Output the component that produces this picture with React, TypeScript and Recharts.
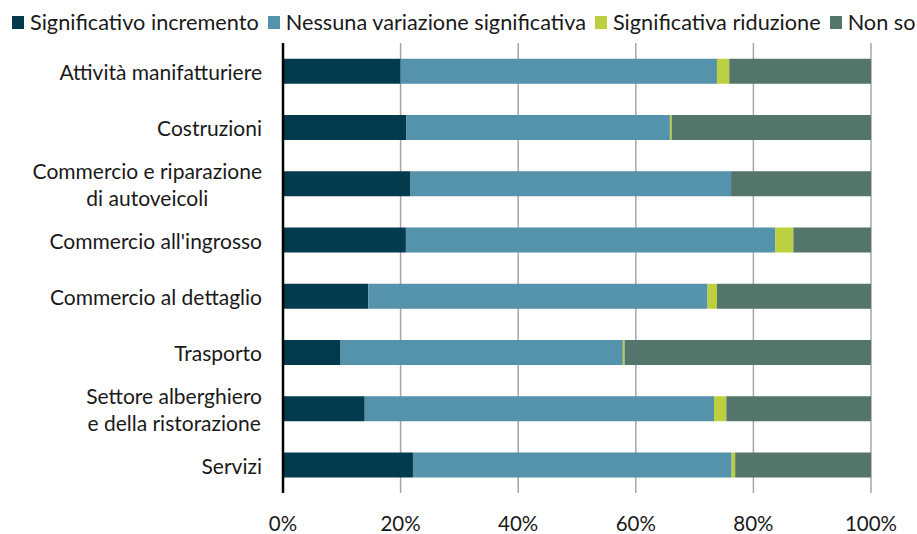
import React from "react";
import { BarChart, Bar, XAxis, YAxis, CartesianGrid } from "recharts";

const categories = [
  "Attività manifatturiere",
  "Costruzioni",
  "Commercio e riparazione\ndi autoveicoli",
  "Commercio all'ingrosso",
  "Commercio al dettaglio",
  "Trasporto",
  "Settore alberghiero\ne della ristorazione",
  "Servizi",
];
const incremento = [20.0, 21.0, 21.7, 20.9, 14.5, 9.8, 13.9, 22.1];
const nessuna = [53.8, 44.8, 54.5, 62.8, 57.7, 48.0, 59.4, 54.2];
const riduzione = [2.1, 0.3, 0.0, 3.1, 1.6, 0.3, 2.1, 0.6];
const nonSo = [24.1, 33.9, 23.8, 13.2, 26.2, 41.9, 24.6, 23.1];
const xTicks = [0, 20, 40, 60, 80, 100];

const seriesNames = [
  "Significativo incremento",
  "Nessuna variazione significativa",
  "Significativa riduzione",
  "Non so",
];
const colors = ["#033a4e", "#5592ab", "#bccf3e", "#53756c"];

const data = categories.map((c, i) => ({
  name: c,
  a: incremento[i],
  b: nessuna[i],
  c: riduzione[i],
  d: nonSo[i],
}));

const FONT = "Lato, 'Noto Sans', sans-serif";
const TEXT = "#1a1a1a";

function measure(text: string, size: number): number {
  if (typeof document === "undefined") return text.length * size * 0.5;
  const cv = document.createElement("canvas");
  const ctx = cv.getContext("2d");
  if (!ctx) return text.length * size * 0.5;
  ctx.font = `${size}px ${FONT}`;
  return ctx.measureText(text).width;
}

const YTick = (props: any) => {
  const { x, y, payload } = props;
  const lines: string[] = String(payload.value).split("\n");
  const size = 21;
  const maxW = Math.max(...lines.map((l) => measure(l, size)));
  const cx = x - maxW / 2;
  const lh = 27;
  const startY = y - ((lines.length - 1) * lh) / 2;
  return (
    <text
      x={cx}
      y={startY}
      textAnchor="middle"
      fill={TEXT}
      fontSize={size}
      fontFamily={FONT}
      dominantBaseline="central"
    >
      {lines.map((l, i) => (
        <tspan key={i} x={cx} y={startY + i * lh} dominantBaseline="central">
          {l}
        </tspan>
      ))}
    </text>
  );
};

export default function App() {
  return (
    <div
      style={{
        position: "absolute",
        left: 0,
        top: 0,
        width: 917,
        height: 534,
        background: "#fff",
        fontFamily: FONT,
        overflow: "hidden",
      }}
    >
      <div
        style={{
          position: "absolute",
          left: 12,
          top: 9,
          display: "flex",
          alignItems: "center",
          fontSize: 21.7,
          color: TEXT,
          whiteSpace: "nowrap",
        }}
      >
        {seriesNames.map((n, i) => (
          <span
            key={n}
            style={{ display: "inline-flex", alignItems: "center", marginRight: 9 }}
          >
            <span
              style={{
                display: "inline-block",
                width: 12,
                height: 13,
                background: colors[i],
                marginRight: 6,
              }}
            />
            {n}
          </span>
        ))}
      </div>
      <BarChart
        width={917}
        height={534}
        data={data}
        layout="vertical"
        margin={{ top: 43, right: 46, bottom: 0, left: 0 }}
        barCategoryGap="28%"
        style={{ position: "absolute", left: 0, top: 0 }}
      >
        <CartesianGrid horizontal={false} vertical={true} stroke="#a6a6a6" strokeWidth={1.5} />
        <XAxis
          type="number"
          domain={[0, 100]}
          ticks={xTicks}
          tickFormatter={(v: number) => `${v}%`}
          axisLine={false}
          tickLine={false}
          height={41}
          tick={{ fontSize: 20.5, fill: TEXT, fontFamily: FONT }}
          tickMargin={17}
          interval={0}
        />
        <YAxis
          type="category"
          dataKey="name"
          width={283}
          axisLine={{ stroke: "#000", strokeWidth: 2.5 }}
          tickLine={false}
          tick={<YTick />}
          tickMargin={15}
          interval={0}
        />
        <Bar dataKey="a" name={seriesNames[0]} stackId="s" fill={colors[0]} isAnimationActive={false} />
        <Bar dataKey="b" name={seriesNames[1]} stackId="s" fill={colors[1]} isAnimationActive={false} />
        <Bar dataKey="c" name={seriesNames[2]} stackId="s" fill={colors[2]} isAnimationActive={false} />
        <Bar dataKey="d" name={seriesNames[3]} stackId="s" fill={colors[3]} isAnimationActive={false} />
      </BarChart>
    </div>
  );
}
